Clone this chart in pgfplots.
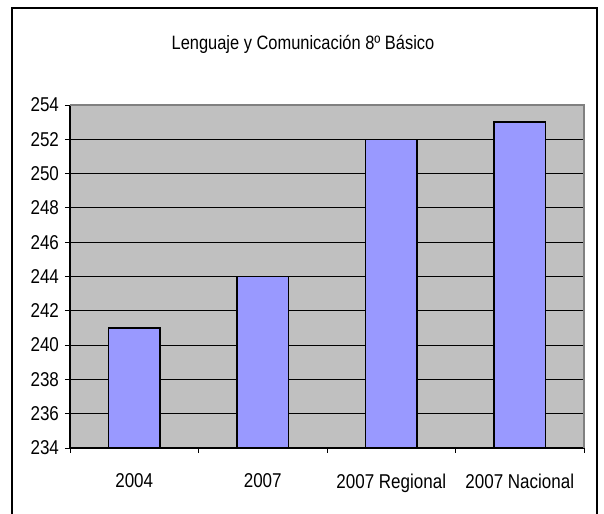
\documentclass[border=0pt]{standalone}
\usepackage{pgfplots}
\pgfplotsset{compat=1.18}
\usepackage{fontspec}
\setmainfont{Liberation Sans}[FakeStretch=0.85]
\definecolor{plotbg}{HTML}{C0C0C0}
\definecolor{barfill}{HTML}{9999FF}
\definecolor{edgegray}{HTML}{808080}
\begin{document}
\begin{tikzpicture}[x=0.75pt,y=0.75pt]
\useasboundingbox (0,0) rectangle (604,514);
\draw[black, line width=0.9pt] (12,0) -- (12,506) -- (597,506) -- (597,0);
\node[font=\fontsize{14.5}{17}\selectfont] at (303,470) {Lenguaje y Comunicación 8º Básico};
\begin{axis}[
  at={(70*0.75pt,66*0.75pt)}, anchor=south west,
  scale only axis, width=385.5pt, height=257.25pt,
  xmin=0.5, xmax=4.5, ymin=234, ymax=254,
  ytick={234,236,...,254},
  xtick={1,2,3,4},
  xticklabels={2004,2007,2007 Regional,2007 Nacional},
  minor xtick={0.5,1.5,2.5,3.5,4.5},
  tick align=outside,
  major tick length=3.75pt,
  minor tick length=3.75pt,
  major x tick style={draw=none},
  tick style={black, line width=0.6pt},
  axis lines*=left,
  axis line style={black, line width=0.8pt},
  axis background/.style={fill=plotbg},
  ymajorgrids,
  major grid style={black, line width=0.6pt},
  ticklabel style={font=\fontsize{15}{18}\selectfont},
  /pgf/number format/assume math mode=true,
  /pgf/number format/1000 sep={},
  xticklabel style={yshift=-12pt},
  yticklabel style={xshift=-1pt},
  clip=false,
]
\draw[edgegray, line width=0.8pt] (axis cs:0.5,254) -- (axis cs:4.5,254) -- (axis cs:4.5,234);
\addplot[ybar, bar width=0.4, fill=barfill, draw=black, line width=1.1pt] coordinates {
  (1,241) (2,244) (3,252) (4,253)
};
\end{axis}
\end{tikzpicture}
\end{document}
